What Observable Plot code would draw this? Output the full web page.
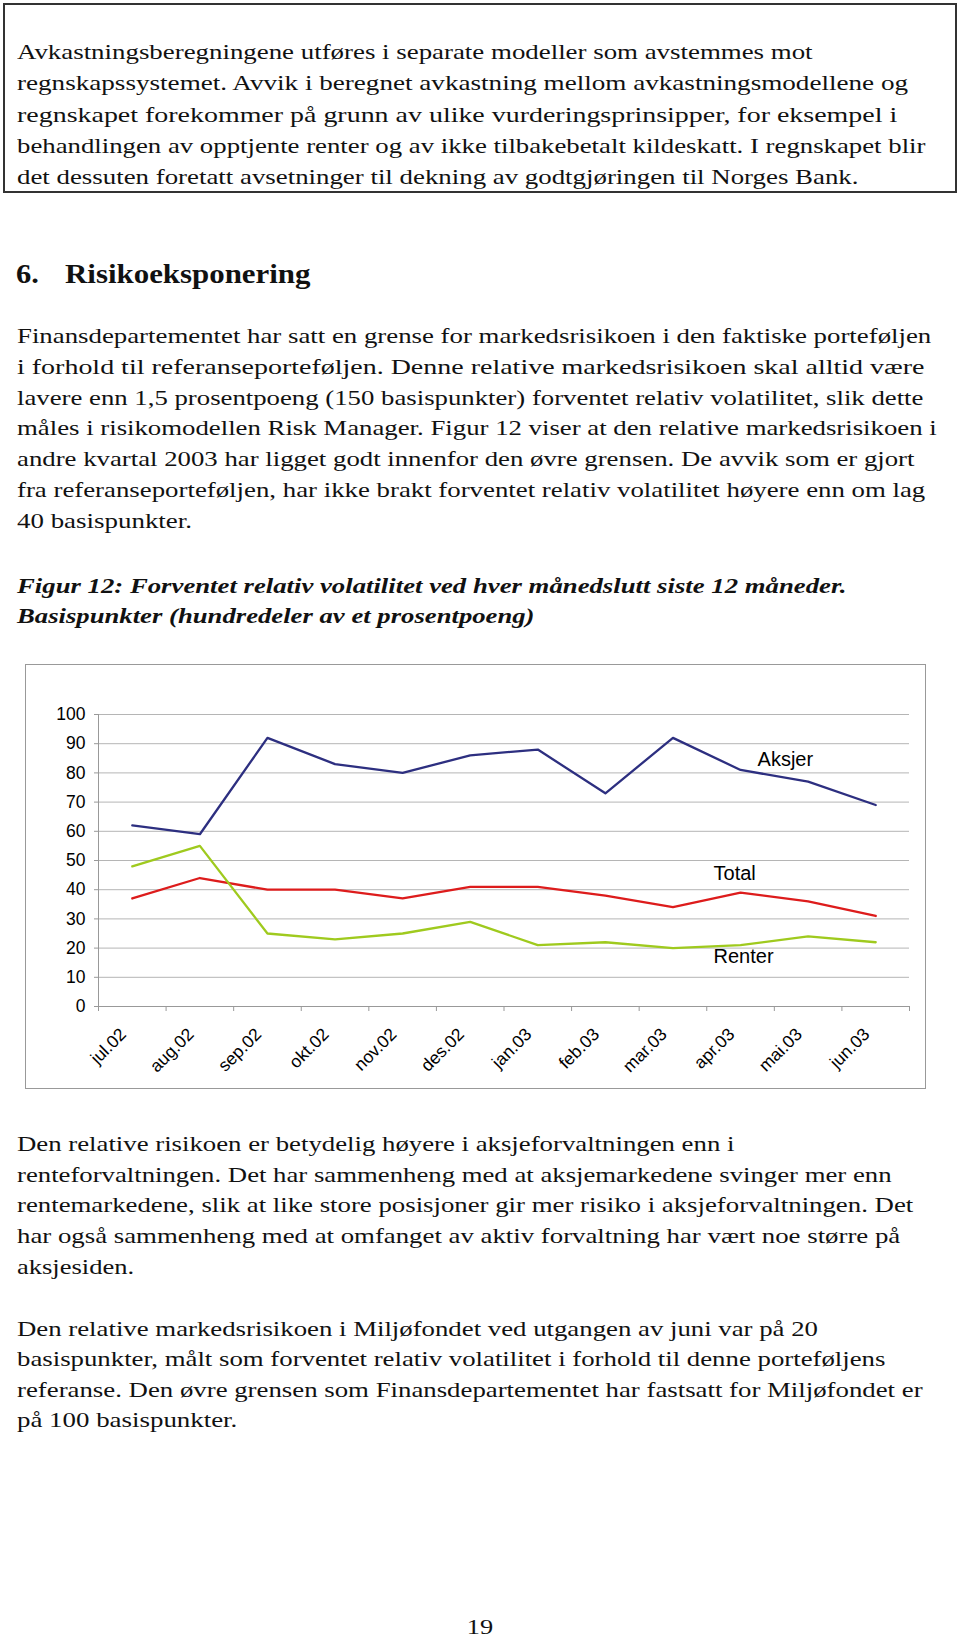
<!DOCTYPE html>
<html><head><meta charset="utf-8">
<script src="https://cdn.jsdelivr.net/npm/d3@7"></script>
<script src="https://cdn.jsdelivr.net/npm/@observablehq/plot@0.6"></script>
<style>
html,body{margin:0;padding:0;background:#fff;}
body{width:960px;height:1637px;position:relative;overflow:hidden;font-family:"Liberation Serif","Times New Roman",serif;color:#111;}
.p{position:absolute;left:17px;font-size:22px;white-space:nowrap;}
.p span,.h span{display:inline-block;transform-origin:0 0;}
.box{position:absolute;left:3px;top:3px;width:950px;height:186px;border:2px solid #333;}
.h{position:absolute;top:257px;font-size:27px;line-height:34px;font-weight:bold;white-space:nowrap;}
.cap{font-weight:bold;font-style:italic;}
#chart{position:absolute;left:25px;top:664px;width:899px;height:423px;border:1px solid #999;}
.pg{position:absolute;left:0;width:960px;text-align:center;top:1612px;font-size:22px;line-height:30.8px;}
.pg span{display:inline-block;transform:scaleX(1.2);}
</style></head><body>
<div class="box"></div>
<div class="p" style="top:36px;line-height:31.3px;">
<div><span data-end="812">Avkastningsberegningene utføres i separate modeller som avstemmes mot</span></div>
<div><span data-end="908">regnskapssystemet. Avvik i beregnet avkastning mellom avkastningsmodellene og</span></div>
<div><span data-end="897">regnskapet forekommer på grunn av ulike vurderingsprinsipper, for eksempel i</span></div>
<div><span data-end="926">behandlingen av opptjente renter og av ikke tilbakebetalt kildeskatt. I regnskapet blir</span></div>
<div><span data-end="858">det dessuten foretatt avsetninger til dekning av godtgjøringen til Norges Bank.</span></div>
</div>
<div class="h" style="left:16px;"><span>6.</span></div>
<div class="h" style="left:65px;"><span data-end="311">Risikoeksponering</span></div>
<div class="p" style="top:321px;line-height:30.8px;">
<div><span data-end="931">Finansdepartementet har satt en grense for markedsrisikoen i den faktiske porteføljen</span></div>
<div><span data-end="925">i forhold til referanseporteføljen. Denne relative markedsrisikoen skal alltid være</span></div>
<div><span data-end="923">lavere enn 1,5 prosentpoeng (150 basispunkter) forventet relativ volatilitet, slik dette</span></div>
<div><span data-end="937">måles i risikomodellen Risk Manager. Figur 12 viser at den relative markedsrisikoen i</span></div>
<div><span data-end="914">andre kvartal 2003 har ligget godt innenfor den øvre grensen. De avvik som er gjort</span></div>
<div><span data-end="925">fra referanseporteføljen, har ikke brakt forventet relativ volatilitet høyere enn om lag</span></div>
<div><span data-end="192">40 basispunkter.</span></div>
</div>
<div class="p cap" style="top:570.7px;line-height:30.3px;">
<div><span data-end="847">Figur 12: Forventet relativ volatilitet ved hver månedslutt siste 12 måneder.</span></div>
<div><span data-end="535">Basispunkter (hundredeler av et prosentpoeng)</span></div>
</div>
<div id="chart"></div>
<div class="p" style="top:1128.8px;line-height:30.8px;">
<div><span data-end="735">Den relative risikoen er betydelig høyere i aksjeforvaltningen enn i</span></div>
<div><span data-end="892">renteforvaltningen. Det har sammenheng med at aksjemarkedene svinger mer enn</span></div>
<div><span data-end="913">rentemarkedene, slik at like store posisjoner gir mer risiko i aksjeforvaltningen. Det</span></div>
<div><span data-end="900">har også sammenheng med at omfanget av aktiv forvaltning har vært noe større på</span></div>
<div><span data-end="134">aksjesiden.</span></div>
</div>
<div class="p" style="top:1313.6px;line-height:30.5px;">
<div><span data-end="818">Den relative markedsrisikoen i Miljøfondet ved utgangen av juni var på 20</span></div>
<div><span data-end="885">basispunkter, målt som forventet relativ volatilitet i forhold til denne porteføljens</span></div>
<div><span data-end="922">referanse. Den øvre grensen som Finansdepartementet har fastsatt for Miljøfondet er</span></div>
<div><span data-end="237">på 100 basispunkter.</span></div>
</div>
<div class="pg"><span>19</span></div>
<script>
const months = ["jul.02","aug.02","sep.02","okt.02","nov.02","des.02","jan.03","feb.03","mar.03","apr.03","mai.03","jun.03"];
const aksjer = [62,59,92,83,80,86,88,73,92,81,77,69];
const total  = [37,44,40,40,37,41,41,38,34,39,36,31];
const renter = [48,55,25,23,25,29,21,22,20,21,24,22];
const seriesNames = ["Aksjer","Total","Renter"];
const seriesColors = ["#2d2f80","#dd1c1c","#9fca1e"];
const yTicks = [0,10,20,30,40,50,60,70,80,90,100];

const seriesValues = [aksjer, total, renter];
const rows = seriesNames.flatMap((s, k) => seriesValues[k].map((v, i) => ({series: s, i, month: months[i], v})));
const bounds = d3.range(months.length + 1).map(i => i - 0.5);
const labelAt = months.indexOf("apr.03");
const font = '"Liberation Sans", Arial, sans-serif';

function seriesLabel(name, values, dx, dy) {
  return Plot.text([name], {x: () => labelAt, y: () => values[labelAt], text: d => d,
    textAnchor: "start", dx, dy, fontSize: 20, fill: "#000", fontFamily: font});
}

const chart = Plot.plot({
  width: 899, height: 423,
  marginLeft: 72, marginRight: 16, marginTop: 49, marginBottom: 82,
  x: {type: "linear", domain: [-0.5, months.length - 0.5], label: null},
  y: {domain: [0, 100], label: null},
  color: {domain: seriesNames, range: seriesColors},
  style: {fontFamily: font, fontSize: "16px", background: "transparent", color: "#000", overflow: "visible"},
  marks: [
    Plot.ruleY(yTicks, {stroke: "#b5b5b5", strokeWidth: 1}),
    Plot.ruleY([0], {stroke: "#999"}),
    Plot.ruleX([bounds[0]], {stroke: "#999"}),
    Plot.axisY({ticks: yTicks, tickSize: 4, tickPadding: 9, stroke: "#999", fill: "#000", fontSize: 17.5, label: null}),
    Plot.axisX({ticks: bounds, tickSize: 5, tickFormat: () => "", stroke: "#999", label: null}),
    Plot.line(rows, {x: "i", y: "v", z: "series", stroke: "series", strokeWidth: 2.3}),
    Plot.text(months, {x: (d, i) => i, y: () => 0, text: d => d, rotate: -45, textAnchor: "end",
      dx: -9, dy: 25, fontSize: 17.5, fill: "#000", fontFamily: font}),
    seriesLabel("Aksjer", aksjer, 17, -10.5),
    seriesLabel("Total", total, -27, -19),
    seriesLabel("Renter", renter, -27, 11)
  ]
});
document.getElementById("chart").appendChild(chart);

// fit each text line horizontally to the width it has in the page
document.querySelectorAll("[data-end]").forEach(el => {
  const left = el.getBoundingClientRect().left;
  const w = el.offsetWidth;
  el.style.transform = `scaleX(${(+el.dataset.end - left) / w})`;
});
document.querySelectorAll(".h span:not([data-end])").forEach(el => {
  el.style.transform = "scaleX(1.13)";
});
</script>
</body></html>
